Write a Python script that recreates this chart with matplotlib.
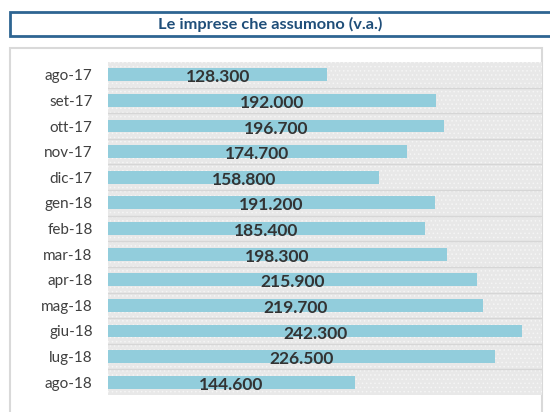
import matplotlib.pyplot as plt
from matplotlib.patches import Rectangle
import matplotlib as mpl

# Data
months = ['ago-17', 'set-17', 'ott-17', 'nov-17', 'dic-17', 'gen-18', 'feb-18',
          'mar-18', 'apr-18', 'mag-18', 'giu-18', 'lug-18', 'ago-18']
values = [128.3, 192.0, 196.7, 174.7, 158.8, 191.2, 185.4,
          198.3, 215.9, 219.7, 242.3, 226.5, 144.6]
value_labels = ['128.300', '192.000', '196.700', '174.700', '158.800', '191.200', '185.400',
                '198.300', '215.900', '219.700', '242.300', '226.500', '144.600']
title = 'Le imprese che assumono (v.a.)'

plt.rcParams['font.family'] = ['Lato', 'DejaVu Sans']
mpl.rcParams['hatch.linewidth'] = 0.6

fig = plt.figure(figsize=(5.5, 4.12), dpi=100)
W, H = 550, 412

# title box
fig.patches.append(Rectangle((10 / W, 1 - 36 / H), 560 / W, 24 / H, transform=fig.transFigure,
                             facecolor='white', edgecolor='#2E6592', linewidth=2.0, zorder=-2))
fig.text(270 / W, 1 - 24 / H, title, ha='center', va='center', fontsize=11.8,
         fontweight='bold', color='#1F4E79')

# outer chart frame
fig.patches.append(Rectangle((10 / W, -0.05), 532 / W, 1 - 48 / H + 0.05, transform=fig.transFigure,
                             facecolor='white', edgecolor='#d9d9d9', linewidth=1.5, zorder=-2))

ax = fig.add_axes([108 / W, 1 - 395 / H, (542 - 108) / W, (395 - 62) / H])
ax.set_zorder(1)
ax.set_facecolor('#e8e8e8')
ax.add_patch(Rectangle((0, 0), 1, 1, transform=ax.transAxes, facecolor='none',
                       edgecolor='#f5f5f5', hatch='....', linewidth=0, zorder=0))

y = list(range(len(months)))
ax.barh(y, values, height=0.5, color='#92CDDC', zorder=2)
for i, (v, lab) in enumerate(zip(values, value_labels)):
    ax.text(v / 2, i + 0.1, lab, ha='center', va='center', fontsize=12.5,
            fontweight='bold', color='#333333', zorder=3)

for i in range(len(months) - 1):
    ax.axhline(i + 0.5, color='#d6d6d6', linewidth=1.0, zorder=1)

ax.set_xlim(0, 254)
ax.set_ylim(len(months) - 0.5, -0.5)
ax.set_yticks(y)
ax.set_yticklabels(months, fontsize=11, color='#404040')
ax.set_xticks([])
ax.tick_params(axis='y', length=0, pad=11)
for s in ax.spines.values():
    s.set_visible(False)

fig.savefig('out.png', dpi=100)
